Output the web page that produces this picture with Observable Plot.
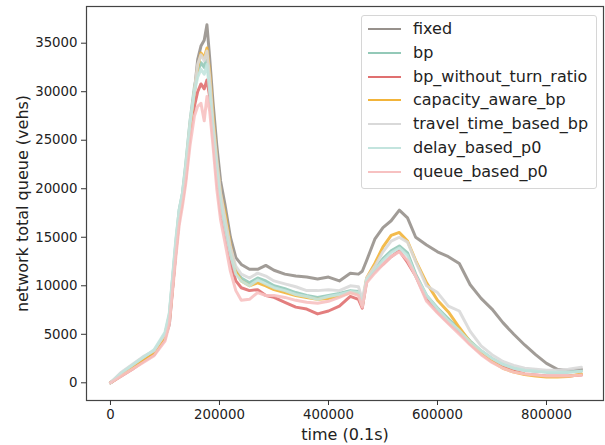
<!DOCTYPE html>
<html>
<head>
<meta charset="utf-8">
<script src="https://cdn.jsdelivr.net/npm/d3@7"></script>
<script src="https://cdn.jsdelivr.net/npm/@observablehq/plot@0.6"></script>
<style>
  html, body { margin: 0; padding: 0; background: #fff; }
  #wrap { position: relative; width: 605px; height: 445px; font-family: "DejaVu Sans", sans-serif; }
  #legend { position: absolute; left: 361px; top: 15px; width: 234px; height: 172px;
            border: 1px solid #d6d6d6; border-radius: 3px; background: rgba(255,255,255,0.85); }
  .row { position: absolute; left: 0; height: 20px; font-size: 16px; color: #222; }
  .row .sw { position: absolute; left: 6px; width: 33px; height: 2px; top: 9px; }
  .row .lb { position: absolute; left: 51px; top: 0px; line-height: 20px; white-space: nowrap; }
</style>
</head>
<body>
<div id="wrap"></div>
<script>
// time (0.1 s)
const time = [0, 20000, 40000, 60000, 80000, 100000, 108000, 114000, 120000, 126000, 132000, 138000, 146000, 154000, 160000, 166000, 172000, 177000, 182000, 188000, 195000, 202000, 210000, 220000, 230000, 240000, 255000, 270000, 285000, 300000, 320000, 340000, 360000, 380000, 400000, 420000, 440000, 455000, 462000, 470000, 485000, 500000, 515000, 530000, 545000, 560000, 580000, 600000, 620000, 640000, 660000, 680000, 700000, 720000, 740000, 760000, 780000, 800000, 820000, 840000, 864000];

const seriesNames = ["fixed", "bp", "bp_without_turn_ratio", "capacity_aware_bp", "travel_time_based_bp", "delay_based_p0", "queue_based_p0"];
const seriesColors = ["#97918c", "#93c9b8", "#e07070", "#f2b43a", "#d9d9d9", "#c3e4de", "#f7c1c1"];

const fixed = [0, 800, 1600, 2300, 2900, 4700, 6000, 9800, 13700, 17000, 19000, 21300, 26500, 30000, 33300, 34700, 35300, 36900, 33500, 29000, 24500, 20800, 18400, 15000, 12900, 12200, 11700, 11700, 12100, 11600, 11200, 11000, 10900, 10700, 10900, 10500, 11300, 11200, 11500, 12600, 14800, 16000, 16700, 17800, 17000, 15000, 14200, 13500, 13000, 12300, 10100, 8700, 7600, 6200, 5000, 3900, 2900, 2000, 1400, 1250, 1400];
const bp = [0, 1000, 1800, 2600, 3300, 5000, 7000, 10800, 14500, 17800, 19500, 22500, 27000, 30500, 32000, 33000, 32500, 33800, 30500, 26500, 22500, 19000, 16500, 13500, 11500, 10800, 10300, 10800, 10500, 10000, 9700, 9300, 9000, 8800, 9000, 9200, 9500, 9400, 8000, 10600, 11800, 12800, 13600, 14100, 13400, 11200, 9000, 7700, 6600, 5500, 4300, 3300, 2500, 1900, 1500, 1300, 1200, 1100, 1100, 1100, 1200];
const bpWithoutTurnRatio = [0, 700, 1400, 2200, 2900, 4500, 6300, 9800, 13500, 16800, 18700, 21000, 25500, 28500, 30000, 30800, 30300, 31200, 29500, 25500, 21000, 17500, 15500, 12500, 10500, 9800, 9500, 9600, 9000, 8800, 8300, 7800, 7600, 7100, 7400, 7900, 8900, 8600, 7700, 10500, 11500, 12200, 13000, 13600, 12400, 11000, 8600, 7300, 6200, 5200, 4000, 3000, 2200, 1600, 1200, 900, 800, 700, 700, 700, 800];
const capacityAwareBp = [0, 800, 1500, 2300, 3000, 4700, 6500, 10000, 14000, 17200, 19000, 21800, 26500, 30000, 32500, 34000, 33500, 34500, 32000, 27500, 23000, 19500, 17500, 14200, 11500, 10500, 10000, 10300, 10000, 9600, 9300, 9000, 8800, 8600, 8700, 8900, 9300, 9200, 8000, 10800, 12300, 14000, 15200, 15500, 14600, 12600, 10300, 8500, 7300, 5700, 4200, 3100, 2200, 1500, 1100, 850, 700, 600, 600, 650, 900];
const travelTimeBasedBp = [0, 1100, 1900, 2700, 3300, 5000, 6800, 10500, 14300, 17500, 19300, 22000, 26800, 30200, 32800, 33800, 33200, 34200, 31500, 27000, 23000, 19500, 17000, 14000, 12000, 11200, 10800, 11300, 11000, 10500, 10200, 9900, 9500, 9500, 9600, 9500, 10000, 9900, 8600, 10800, 12000, 13500, 14600, 15000, 14500, 12500, 10000, 9300, 7900, 7400, 5300, 3800, 2900, 2200, 1800, 1500, 1400, 1300, 1300, 1400, 1600];
const delayBasedP0 = [0, 1000, 1800, 2600, 3400, 5200, 7200, 11000, 14800, 17800, 19500, 22300, 26800, 30000, 31500, 32300, 31800, 32800, 30000, 26000, 22000, 18500, 16000, 13200, 11200, 10500, 10000, 10600, 10200, 9800, 9500, 9100, 8900, 8600, 8900, 9100, 9400, 9300, 8000, 10600, 11600, 12600, 13400, 13900, 13100, 11000, 9000, 7600, 6400, 5400, 4200, 3300, 2500, 1900, 1500, 1300, 1200, 1100, 1100, 1100, 1200];
const queueBasedP0 = [0, 700, 1400, 2100, 2800, 4300, 6000, 9500, 13000, 16200, 18200, 20500, 24500, 27500, 28500, 28800, 27000, 29500, 28000, 24500, 20000, 16800, 14500, 11500, 9500, 8500, 8600, 9300, 9000, 9000, 8800, 8500, 8300, 8200, 8400, 8800, 9300, 9000, 7800, 10300, 11300, 12200, 13000, 13500, 12600, 11000, 8400, 7200, 6100, 5000, 3900, 2900, 2100, 1500, 1100, 900, 800, 700, 700, 700, 800];

const xTicks = [0, 200000, 400000, 600000, 800000];
const yTicks = [0, 5000, 10000, 15000, 20000, 25000, 30000, 35000];

const allValues = [fixed, bp, bpWithoutTurnRatio, capacityAwareBp, travelTimeBasedBp, delayBasedP0, queueBasedP0];
const data = [];
seriesNames.forEach((name, i) => {
  time.forEach((t, j) => data.push({series: name, t, v: allValues[i][j]}));
});

const fmt = d3.format("d");

const chart = Plot.plot({
  width: 605,
  height: 445,
  marginLeft: 86,
  marginRight: 2,
  marginTop: 6,
  marginBottom: 45,
  style: {fontFamily: "DejaVu Sans, sans-serif", fontSize: "13.3px", color: "#222", background: "#fff"},
  x: {domain: [-44000, 904600]},
  y: {domain: [-1824, 38782]},
  color: {domain: seriesNames, range: seriesColors},
  marks: [
    Plot.line(data, {x: "t", y: "v", z: "series", stroke: "series", strokeWidth: 3, strokeOpacity: 0.9, strokeLinejoin: "round"}),
    Plot.frame({stroke: "#444", strokeWidth: 1.2}),
    Plot.axisX({ticks: xTicks, tickFormat: fmt, tickSize: 5, tickPadding: 4, label: null, stroke: "#333"}),
    Plot.axisY({ticks: yTicks, tickFormat: fmt, tickSize: 5, tickPadding: 4, label: null, stroke: "#333"}),
    Plot.text(["time (0.1s)"], {frameAnchor: "bottom", textAnchor: "middle", lineAnchor: "middle", dy: 34, fontSize: 16, fill: "#222"}),
    Plot.text(["network total queue (vehs)"], {frameAnchor: "left", textAnchor: "middle", lineAnchor: "middle", rotate: -90, dx: -64, fontSize: 16, fill: "#222"})
  ]
});

const wrap = document.getElementById("wrap");
wrap.appendChild(chart);

const legend = document.createElement("div");
legend.id = "legend";
seriesNames.forEach((name, i) => {
  const row = document.createElement("div");
  row.className = "row";
  row.style.top = (3 + i * 23.8) + "px";
  row.innerHTML = `<span class="sw" style="background:${seriesColors[i]}"></span><span class="lb">${name}</span>`;
  legend.appendChild(row);
});
wrap.appendChild(legend);
</script>
</body>
</html>
